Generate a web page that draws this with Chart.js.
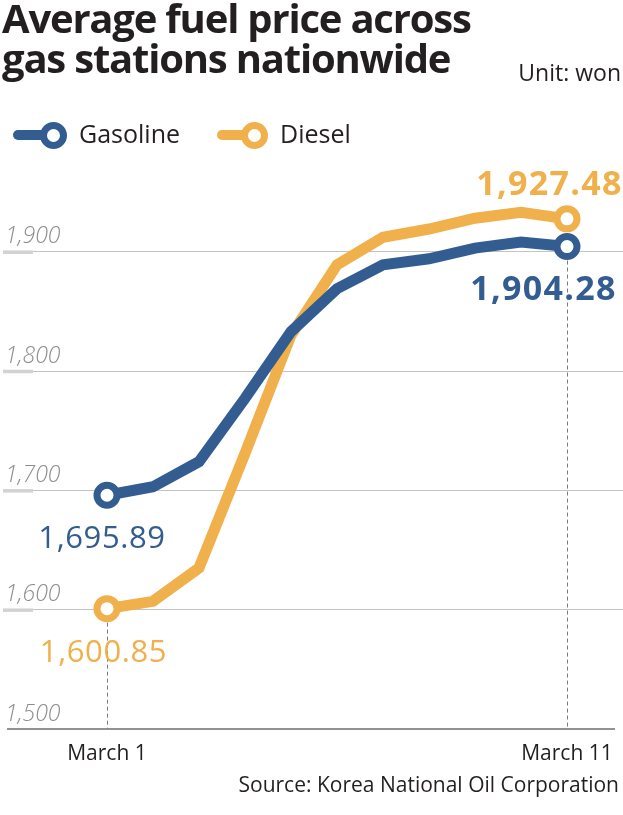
<!DOCTYPE html>
<html>
<head>
<meta charset="utf-8">
<script src="https://cdn.jsdelivr.net/npm/chart.js@4"></script>
<style>
  html, body { margin: 0; padding: 0; background: #fff; }
  body { width: 623px; height: 815px; position: relative; overflow: hidden; font-family: "Open Sans", sans-serif; color: #231f20; }
  #title { position: absolute; left: 2px; top: -2.5px; font-size: 40px; line-height: 40px; font-weight: 700; letter-spacing: -1.2px; margin: 0; }
  #unit { position: absolute; right: 2px; top: 61px; font-size: 23px; line-height: 23px; }
  .leg-line { position: absolute; height: 10px; border-radius: 5px 0 0 5px; }
  .leg-dot { position: absolute; width: 27px; height: 27px; box-sizing: border-box; border-radius: 50%; border: 7px solid; background: #fff; }
  .leg-text { position: absolute; font-size: 25px; line-height: 25px; top: 121px; }
  #source { position: absolute; right: 4px; top: 774px; font-size: 21px; line-height: 21px; }
  #wrap { position: absolute; left: 0; top: 0; width: 623px; height: 815px; }
</style>
</head>
<body>
<div id="wrap"><canvas id="c"></canvas></div>
<h1 id="title">Average fuel price across<br>gas stations nationwide</h1>
<div id="unit">Unit: won</div>
<div class="leg-line" style="left:13px;top:130px;width:30px;background:#335d90"></div>
<div class="leg-dot" style="left:39.5px;top:121.5px;border-color:#335d90"></div>
<div class="leg-text" style="left:79px">Gasoline</div>
<div class="leg-line" style="left:217px;top:130px;width:28px;background:#f0b04b"></div>
<div class="leg-dot" style="left:240.5px;top:121.5px;border-color:#f0b04b"></div>
<div class="leg-text" style="left:280px">Diesel</div>
<div id="source">Source: Korea National Oil Corporation</div>
<script>
const dates = ['March 1','March 2','March 3','March 4','March 5','March 6','March 7','March 8','March 9','March 10','March 11'];
const gasoline = [1695.89, 1703, 1724, 1777, 1833, 1869, 1889, 1894, 1903, 1908, 1904.28];
const diesel = [1600.85, 1607, 1635, 1731, 1830, 1889, 1912, 1919, 1928, 1933, 1927.48];
const yTicks = [1500, 1600, 1700, 1800, 1900];
const shownDates = [0, dates.length - 1];

const BLUE = '#335d90', ORANGE = '#f0b04b';
const last = dates.length - 1;
const endRadius = (ctx) => (ctx.dataIndex === 0 || ctx.dataIndex === last) ? 10 : 0;

const decor = {
  id: 'decor',
  beforeDatasetsDraw(chart) {
    const {ctx, chartArea, scales: {x, y}} = chart;
    ctx.save();
    ctx.strokeStyle = '#d2d2d2';
    ctx.lineWidth = 3.5;
    yTicks.forEach(v => {
      if (v === yTicks[0]) return;
      const py = y.getPixelForValue(v) + 0.5;
      ctx.beginPath(); ctx.moveTo(chartArea.left, py); ctx.lineTo(chartArea.left + 30, py); ctx.stroke();
    });
    const by = y.getPixelForValue(yTicks[0]);
    ctx.strokeStyle = '#6e6e6e';
    ctx.lineWidth = 1.4;
    ctx.beginPath(); ctx.moveTo(chartArea.left + 4, by); ctx.lineTo(chartArea.right - 8, by); ctx.stroke();
    ctx.strokeStyle = '#7a7a7a';
    ctx.lineWidth = 1;
    ctx.setLineDash([4, 3]);
    shownDates.forEach(i => {
      const px = Math.round(x.getPixelForValue(i)) + 0.5;
      const top = y.getPixelForValue(Math.min(gasoline[i], diesel[i]));
      ctx.beginPath(); ctx.moveTo(px, top); ctx.lineTo(px, by); ctx.stroke();
    });
    ctx.restore();
  },
  afterDatasetsDraw(chart) {
    const {ctx, scales: {x, y}} = chart;
    const fmt = v => v.toLocaleString('en-US', {minimumFractionDigits: 2, maximumFractionDigits: 2});
    const items = [
      {v: gasoline[0], i: 0, color: BLUE, bold: false, dx: -5, dy: 53},
      {v: diesel[0], i: 0, color: ORANGE, bold: false, dx: -3.5, dy: 53},
      {v: diesel[last], i: last, color: ORANGE, bold: true, dx: -17.5, dy: -23.5},
      {v: gasoline[last], i: last, color: BLUE, bold: true, dx: -23.5, dy: 53},
    ];
    ctx.save();
    ctx.textAlign = 'center';
    ctx.textBaseline = 'alphabetic';
    items.forEach(it => {
      ctx.font = it.bold ? '700 34px "Open Sans"' : '400 31px "Open Sans"';
      ctx.letterSpacing = it.bold ? '1.3px' : '0.6px';
      ctx.fillStyle = it.color;
      ctx.fillText(fmt(it.v), x.getPixelForValue(it.i) + it.dx, y.getPixelForValue(it.v) + it.dy);
    });
    ctx.restore();
  }
};

const pts = arr => arr.map((v, i) => ({x: i, y: v}));

new Chart(document.getElementById('c'), {
  type: 'line',
  data: {
    datasets: [
      {label: 'Gasoline', data: pts(gasoline), borderColor: BLUE, borderWidth: 11, pointRadius: endRadius, pointHoverRadius: endRadius,
       pointBorderWidth: 7, pointBorderColor: BLUE, pointBackgroundColor: '#fff', tension: 0, fill: false},
      {label: 'Diesel', data: pts(diesel), borderColor: ORANGE, borderWidth: 11, pointRadius: endRadius, pointHoverRadius: endRadius,
       pointBorderWidth: 7, pointBorderColor: ORANGE, pointBackgroundColor: '#fff', tension: 0, fill: false}
    ]
  },
  options: {
    responsive: true,
    maintainAspectRatio: false,
    animation: false,
    events: [],
    layout: {autoPadding: false, padding: {left: 3, right: 0, top: 192, bottom: 46}},
    plugins: {legend: {display: false}, tooltip: {enabled: false}, title: {display: false}},
    scales: {
      x: {
        type: 'linear',
        min: -104 / 46,
        max: 10 + 56 / 46,
        afterBuildTicks: s => { s.ticks = shownDates.map(v => ({value: v})); },
        afterFit: s => { s.height = 40; s.paddingLeft = 0; s.paddingRight = 0; },
        grid: {display: false},
        border: {display: false},
        ticks: {
          autoSkip: false, maxRotation: 0, padding: 4,
          color: '#231f20',
          font: {family: 'Open Sans', size: 21},
          callback: v => dates[v]
        }
      },
      y: {
        min: 1500,
        max: 1950,
        afterBuildTicks: s => { s.ticks = yTicks.map(v => ({value: v})); },
        afterFit: s => { s.width = 0; s.paddingTop = 0; s.paddingBottom = 0; },
        border: {display: false},
        grid: {drawTicks: false, lineWidth: 1, color: c => (c.tick && c.tick.value === yTicks[0]) ? 'rgba(0,0,0,0)' : '#c3c3c3'},
        ticks: {
          mirror: true, padding: 2, labelOffset: -15,
          color: '#8d8d8d',
          font: {family: 'Open Sans', size: 23, style: 'italic', weight: 300},
          callback: v => v.toLocaleString('en-US')
        }
      }
    }
  },
  plugins: [decor]
});
</script>
</body>
</html>
